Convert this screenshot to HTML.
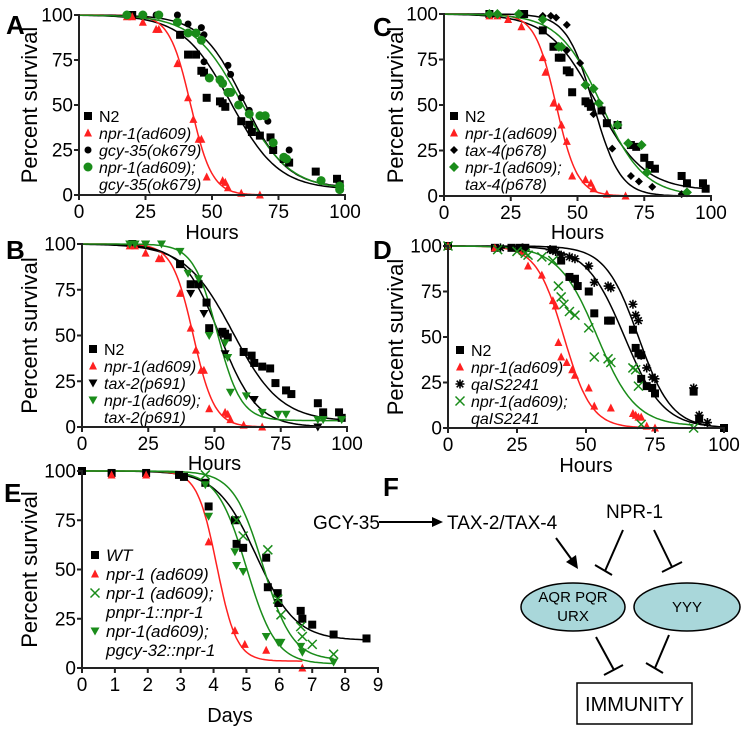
<!DOCTYPE html>
<html><head><meta charset="utf-8">
<style>
html,body{margin:0;padding:0;background:#fff}
svg{display:block;font-family:"Liberation Sans",Arial,sans-serif}
</style></head>
<body>
<svg id="fig" width="747" height="732" viewBox="0 0 747 732" xmlns="http://www.w3.org/2000/svg">
<g font-size="19">
<text x="383" y="496" font-size="26" font-weight="bold">F</text>
<text x="313" y="529">GCY-35</text>
<line x1="379" y1="522" x2="433" y2="522" stroke="#000" stroke-width="2"/>
<polygon points="443,522 432,517 432,527" fill="#000"/>
<text x="447" y="529">TAX-2/TAX-4</text>
<text x="606" y="518">NPR-1</text>
<line x1="556" y1="538" x2="572" y2="560" stroke="#000" stroke-width="2"/>
<polygon points="578,569 566,562 576,555" fill="#000"/>
<line x1="623" y1="530" x2="605" y2="571" stroke="#000" stroke-width="2"/>
<line x1="595" y1="565" x2="612" y2="575" stroke="#000" stroke-width="2"/>
<line x1="654" y1="530" x2="672" y2="567" stroke="#000" stroke-width="2"/>
<line x1="662" y1="572" x2="682" y2="562" stroke="#000" stroke-width="2"/>
<ellipse cx="573" cy="607" rx="52" ry="24" fill="#a9d7da" stroke="#000" stroke-width="1.5"/>
<text x="573" y="602" font-size="15" text-anchor="middle">AQR PQR</text>
<text x="573" y="621" font-size="15" text-anchor="middle">URX</text>
<ellipse cx="687" cy="607" rx="53" ry="24" fill="#a9d7da" stroke="#000" stroke-width="1.5"/>
<text x="687" y="612" font-size="15" text-anchor="middle">YYY</text>
<line x1="596" y1="637" x2="614" y2="670" stroke="#000" stroke-width="2"/>
<line x1="604" y1="675" x2="623" y2="665" stroke="#000" stroke-width="2"/>
<line x1="669" y1="635" x2="655" y2="668" stroke="#000" stroke-width="2"/>
<line x1="646" y1="663" x2="663" y2="673" stroke="#000" stroke-width="2"/>
<rect x="577" y="683" width="115" height="41" fill="#fff" stroke="#000" stroke-width="1.5"/>
<text x="634.5" y="711" text-anchor="middle" font-size="20">IMMUNITY</text>
</g>
</svg>
<script>
const aN2 = [[20,100],[38,89],[41,78],[44,78],[46,69],[47,68],[48,54],[53,52],[54,51],[55,49],[61,41],[64,39],[65,35],[68,33],[72,32],[73,25],[77,20],[79,18],[89,13],[97,9],[98,6]];
const aNpr = [[18,99],[20,99],[24,96],[29,92],[30,92],[37,73],[41,54],[43,42],[45,31],[46,31],[48,10],[54,8],[55,7],[56,4],[61,1],[68,0]];
const aGcy = [[29,100],[37,100],[41,95],[46,93],[47,89],[47,74],[56,72],[57,67],[61,54],[64,47],[71,41],[79,25],[97,9]];
const aDbl = [[18,100],[24,100],[30,100],[37,96],[41,90],[44,90],[46,86],[49,65],[53,64],[54,62],[56,57],[57,57],[60,50],[64,45],[68,44],[70,44],[73,29],[77,21],[78,20],[91,8],[98,3],[98,5]];
const bN2 = [[19,100],[37,89],[41,78],[44,78],[47,68],[48,54],[53,52],[54,51],[55,49],[61,41],[64,39],[65,35],[68,33],[71,32],[73,24],[77,20],[79,18],[89,13],[91,8],[97,8],[98,5]];
const bNpr = [[18,99],[20,99],[24,95],[29,92],[30,92],[37,73],[41,54],[43,42],[45,31],[46,31],[48,10],[54,8],[55,7],[56,4],[61,1],[68,0]];
const bTax2 = [[20,100],[24,100],[41,73],[46,62],[54,40],[65,15],[89,0]];
const bDbl = [[18,100],[20,100],[24,100],[30,100],[37,96],[40,84],[44,81],[48,50],[54,46],[55,38],[56,19],[62,17],[68,8],[74,7],[77,7],[89,4],[91,4],[98,4]];
const cN2 = [[17,100],[30,100],[37,91],[41,82],[43,76],[44,76],[46,69],[47,68],[48,57],[53,52],[54,51],[55,49],[59,47],[61,40],[65,39],[70,28],[72,27],[75,21],[77,17],[79,15],[89,11],[91,7],[97,7],[98,4]];
const cNpr = [[17,99],[20,99],[24,97],[29,93],[37,76],[38,68],[41,51],[43,49],[44,39],[46,30],[48,11],[53,9],[55,7],[56,4],[61,1],[68,0]];
const cTax4 = [[37,99],[40,99],[42,98],[46,94],[46,80],[51,73],[56,45],[63,26],[70,11],[73,8],[78,5],[89,1]];
const cDbl = [[17,100],[20,100],[28,100],[37,97],[43,82],[44,82],[53,61],[56,59],[58,51],[65,39],[69,29],[74,28],[76,13],[91,2]];
const dN2 = [[0,100],[17,99],[23,99],[26,99],[28,99],[38,98],[41,92],[44,83],[46,82],[47,78],[51,75],[53,63],[58,59],[59,59],[67,54],[68,44],[69,41],[70,40],[70,27],[72,23],[74,22],[75,19],[89,20],[91,5],[100,0]];
const dNpr = [[0,100],[17,99],[27,97],[29,89],[34,84],[38,70],[39,67],[40,47],[41,39],[43,36],[45,32],[46,29],[51,22],[53,12],[59,11],[67,8],[68,7],[69,6],[70,6],[72,1],[75,0]];
const dQa = [[19,99],[27,99],[37,98],[39,97],[41,95],[44,94],[46,93],[51,89],[53,80],[58,78],[59,77],[67,68],[68,62],[69,59],[70,40],[72,33],[74,28],[75,27],[89,22],[91,7],[94,3]];
const dDbl = [[0,100],[18,98],[25,97],[28,96],[29,95],[34,94],[38,92],[40,78],[41,72],[42,68],[44,64],[46,62],[51,55],[53,39],[58,38],[59,36],[67,33],[68,32],[69,23],[70,2],[89,0]];
const eWT = [[0,100],[0.9,99],[1.95,99],[2.95,98],[3.1,97],[3.75,94],[3.85,82],[4.65,75],[4.7,63],[4.9,61],[5.6,56],[5.65,41],[5.95,38],[5.97,33],[6.65,29],[6.7,25],[7,22],[7.65,17],[8.65,15]];
const eNpr = [[0.9,98],[1.95,98],[3.85,64],[4.65,19],[4.95,12],[5.6,9],[6.7,0]];
const ePnpr = [[3.75,98],[4.7,75],[4.9,67],[5.65,60],[5.95,35],[6.05,27],[6.65,21],[6.7,16],[7,12],[7.65,7]];
const ePgcy = [[3.75,93],[3.85,77],[4.65,59],[4.7,52],[4.9,49],[5.6,16],[5.97,13],[6.05,13],[6.65,11],[6.7,8],[7.65,3]];
const fitA = [[57,9,3,0,98],[42,4,0,0,68],[62,8,4,0,98],[61,9,3,0,98]];
const fitB = [[57,9,3,0,98],[42,4,0,0,68],[52,7,0,0,89],[51,4.5,3.5,0,98]];
const fitC = [[57,9,3,0,98],[42,4,0,0,68],[56,5,0,0,89],[59,8,0,0,91]];
const fitD = [[64,7,0,0,100],[42,5,0,0,75],[69,6,0,0,94],[54,7,1,0,89]];
const fitE = [[5.3,0.6,14,0,8.65],[4.1,0.3,3.5,0,6.7],[5.5,0.45,4,0,7.65],[5.0,0.45,2,0,7.65]];
const hourTicks = [0,25,50,75,100];
const dayTicks = [0,1,2,3,4,5,6,7,8,9];
const yTicks = [0,25,50,75,100];

const NS = "http://www.w3.org/2000/svg";
const svg = document.getElementById('fig');
function mk(tag, attrs, parent){
  const e = document.createElementNS(NS, tag);
  for (const k in attrs) e.setAttribute(k, attrs[k]);
  (parent||svg).appendChild(e);
  return e;
}
const RED='#ff2020', GRN='#1a8c1a', BLK='#000';
function marker(g, type, x, y, col){
  let e;
  if (type==='sq') e = mk('rect',{x:x-4,y:y-4,width:8,height:8,fill:col},g);
  else if (type==='tri') e = mk('polygon',{points:`${x},${y-4.5} ${x-4},${y+3.5} ${x+4},${y+3.5}`,fill:col},g);
  else if (type==='dtri') e = mk('polygon',{points:`${x},${y+4.5} ${x-4.5},${y-3.5} ${x+4.5},${y-3.5}`,fill:col},g);
  else if (type==='dot') e = mk('circle',{cx:x,cy:y,r:3.5,fill:col},g);
  else if (type==='bigdot') e = mk('circle',{cx:x,cy:y,r:4.5,fill:col},g);
  else if (type==='dia') e = mk('polygon',{points:`${x},${y-4} ${x+4},${y} ${x},${y+4} ${x-4},${y}`,fill:col},g);
  else if (type==='bigdia') e = mk('polygon',{points:`${x},${y-5} ${x+5},${y} ${x},${y+5} ${x-5},${y}`,fill:col},g);
  else if (type==='x') { e = mk('path',{d:`M${x-4.5},${y-4.5}L${x+4.5},${y+4.5}M${x-4.5},${y+4.5}L${x+4.5},${y-4.5}`,stroke:col,'stroke-width':1.5,fill:'none'},g); }
  else if (type==='star') { e = mk('path',{d:`M${x-4.5},${y}L${x+4.5},${y}M${x},${y-4.5}L${x},${y+4.5}M${x-3.3},${y-3.3}L${x+3.3},${y+3.3}M${x-3.3},${y+3.3}L${x+3.3},${y-3.3}`,stroke:col,'stroke-width':1.6,fill:'none'},g); }
  
  
  return e;
}
function panel(p){
  const g = mk('g',{});
  
  
  const sx = v => p.x0 + (v-p.xmin)/(p.xmax-p.xmin)*(p.x1-p.x0);
  const sy = v => p.y0 - v/100*(p.y0-p.y1);
  p.series.forEach((s,i)=>{
    const f = p.fits[i];
    let d='';
    const n=120;
    for(let k=0;k<=n;k++){
      const xv = f[3]+(f[4]-f[3])*k/n;
      const yv = f[2]+(100-f[2])/(1+Math.exp((xv-f[0])/f[1]));
      d += (k?'L':'M')+sx(xv).toFixed(1)+','+sy(yv).toFixed(1);
    }
    const c = mk('path',{d:d,fill:'none',stroke:s.col,'stroke-width':1.5},g);
    
    
  });
  p.series.forEach(s=>{
    s.data.forEach(pt=>marker(g,s.m,sx(pt[0]),sy(pt[1]),s.col));
  });
  const ax = mk('path',{d:`M${p.x0},${p.y1-1}L${p.x0},${p.y0}L${p.x1+1},${p.y0}`,fill:'none',stroke:'#222','stroke-width':2},g);
  
  
  p.yt.forEach(v=>{
    mk('line',{x1:p.x0-5,x2:p.x0,y1:sy(v),y2:sy(v),stroke:'#222','stroke-width':2},g);
    const t = mk('text',{x:p.x0-6,y:sy(v)+6.5,'font-size':19,'text-anchor':'end'},g);
    t.textContent=v;
    
    
  });
  p.xt.forEach(v=>{
    mk('line',{x1:sx(v),x2:sx(v),y1:p.y0,y2:p.y0+5,stroke:'#222','stroke-width':2},g);
    const t = mk('text',{x:sx(v),y:p.y0+23,'font-size':19,'text-anchor':'middle'},g);
    t.textContent=v;
    
    
  });
  const yl = mk('text',{x:0,y:0,'font-size':22,'text-anchor':'middle',transform:`translate(${p.ylx},${(p.y0+p.y1)/2}) rotate(-90)`},g);
  yl.textContent='Percent survival';
  
  
  const xl = mk('text',{x:(p.x0+p.x1)/2,y:p.xly,'font-size':20,'text-anchor':'middle'},g);
  xl.textContent=p.xlab;
  
  
  const pl = mk('text',{x:p.lx,y:p.ly,'font-size':26,'font-weight':'bold'},g);
  pl.textContent=p.id.toUpperCase();
  
  
  let y = p.legY;
  p.series.forEach(s=>{
    const lg = mk('g',{},g);
    
    
    marker(lg, s.m, p.legX, y, s.col);
    s.lab.forEach((ln,j)=>{
      const t = mk('text',{x:p.legX+11,y:y+6+j*p.legDy,'font-size':p.legFs,'font-style':ln.it?'italic':'normal'},lg);
      t.textContent=ln.t;
    });
    y += p.legDy*s.lab.length;
  });
}
const L = (t,it=true)=>({t,it});
panel({id:'a',x0:79,x1:345,y0:195,y1:15,xmin:0,xmax:100,xt:hourTicks,yt:yTicks,ylx:37,xly:239,xlab:'Hours',lx:6,ly:34,
  legX:88,legY:116,legDy:17,legFs:16,fits:fitA,series:[
  {key:'n2',data:aN2,m:'sq',col:BLK,lab:[L('N2',false)]},
  {key:'npr-1',data:aNpr,m:'tri',col:RED,lab:[L('npr-1(ad609)')]},
  {key:'gcy-35',data:aGcy,m:'dot',col:BLK,lab:[L('gcy-35(ok679)')]},
  {key:'npr-1-gcy-35',data:aDbl,m:'bigdot',col:GRN,lab:[L('npr-1(ad609);'),L('gcy-35(ok679)')]}]});
panel({id:'b',x0:82,x1:347,y0:427,y1:244,xmin:0,xmax:100,xt:hourTicks,yt:yTicks,ylx:37,xly:470,xlab:'Hours',lx:6,ly:259,
  legX:93,legY:349,legDy:17,legFs:16,fits:fitB,series:[
  {key:'n2',data:bN2,m:'sq',col:BLK,lab:[L('N2',false)]},
  {key:'npr-1',data:bNpr,m:'tri',col:RED,lab:[L('npr-1(ad609)')]},
  {key:'tax-2',data:bTax2,m:'dtri',col:BLK,lab:[L('tax-2(p691)')]},
  {key:'npr-1-tax-2',data:bDbl,m:'dtri',col:GRN,lab:[L('npr-1(ad609);'),L('tax-2(p691)')]}]});
panel({id:'c',x0:444,x1:711,y0:196,y1:14,xmin:0,xmax:100,xt:hourTicks,yt:yTicks,ylx:403,xly:239,xlab:'Hours',lx:373,ly:36,
  legX:454,legY:116,legDy:17,legFs:16,fits:fitC,series:[
  {key:'n2',data:cN2,m:'sq',col:BLK,lab:[L('N2',false)]},
  {key:'npr-1',data:cNpr,m:'tri',col:RED,lab:[L('npr-1(ad609)')]},
  {key:'tax-4',data:cTax4,m:'dia',col:BLK,lab:[L('tax-4(p678)')]},
  {key:'npr-1-tax-4',data:cDbl,m:'bigdia',col:GRN,lab:[L('npr-1(ad609);'),L('tax-4(p678)')]}]});
panel({id:'d',x0:448,x1:724,y0:428,y1:246,xmin:0,xmax:100,xt:hourTicks,yt:yTicks,ylx:403,xly:472,xlab:'Hours',lx:373,ly:259,
  legX:460,legY:350,legDy:17,legFs:16,fits:fitD,series:[
  {key:'n2',data:dN2,m:'sq',col:BLK,lab:[L('N2',false)]},
  {key:'npr-1',data:dNpr,m:'tri',col:RED,lab:[L('npr-1(ad609)')]},
  {key:'qais2241',data:dQa,m:'star',col:BLK,lab:[L('qaIS2241')]},
  {key:'npr-1-qais2241',data:dDbl,m:'x',col:GRN,lab:[L('npr-1(ad609);'),L('qaIS2241')]}]});
panel({id:'e',x0:82,x1:378,y0:668,y1:471,xmin:0,xmax:9,xt:dayTicks,yt:yTicks,ylx:37,xly:722,xlab:'Days',lx:4,ly:502,
  legX:95,legY:555,legDy:19,legFs:17,fits:fitE,series:[
  {key:'wt',data:eWT,m:'sq',col:BLK,lab:[L('WT')]},
  {key:'npr-1',data:eNpr,m:'tri',col:RED,lab:[L('npr-1 (ad609)')]},
  {key:'pnpr-1',data:ePnpr,m:'x',col:GRN,lab:[L('npr-1 (ad609);'),L('pnpr-1::npr-1')]},
  {key:'pgcy-32',data:ePgcy,m:'dtri',col:GRN,lab:[L('npr-1(ad609);'),L('pgcy-32::npr-1')]}]});
</script>
</body></html>
